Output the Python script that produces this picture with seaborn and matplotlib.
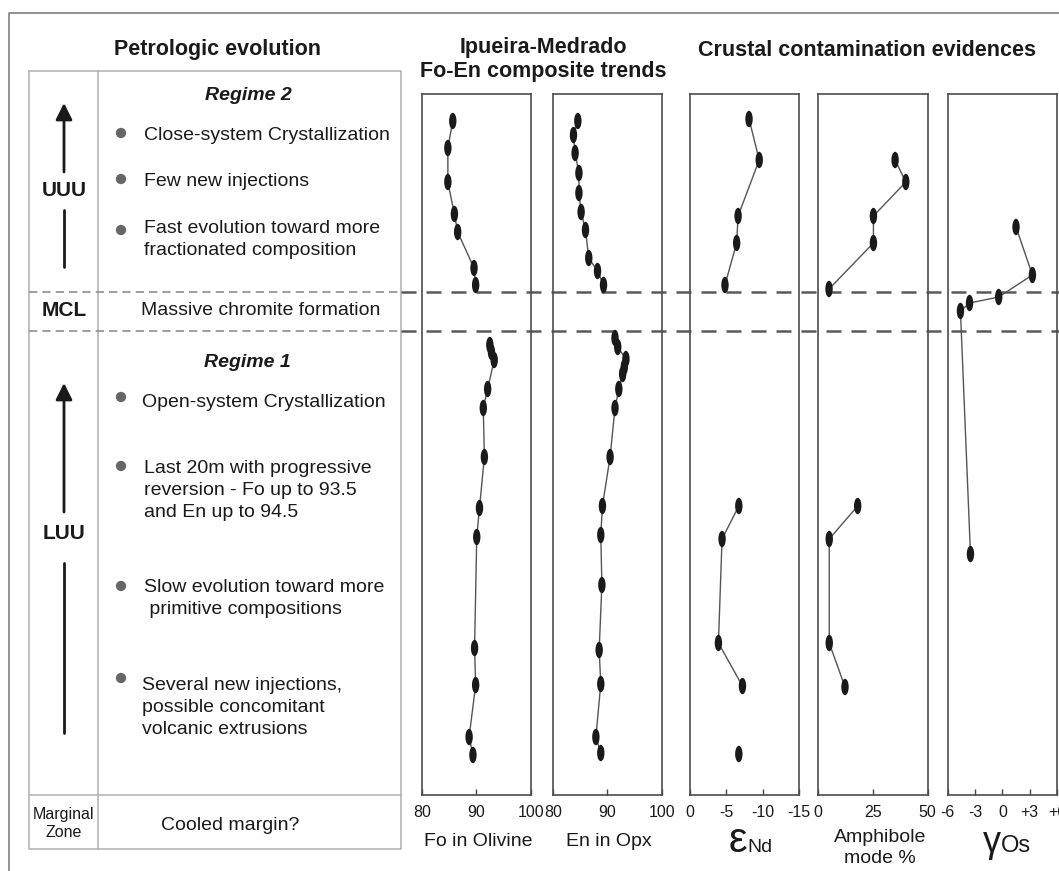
import numpy as np
import pandas as pd
import matplotlib
matplotlib.use('Agg')
import matplotlib.pyplot as plt
from matplotlib.path import Path
from matplotlib.transforms import Affine2D
import seaborn as sns

W, H = 1059, 871

# ── Data (stratigraphic height, arbitrary units, 0 = base of panel) ─────────
fo_upper_val = [85.7, 84.8, 84.8, 86.0, 86.6, 89.6, 89.9]
fo_upper_h   = [674, 647, 613, 581, 563, 527, 510]
fo_lower_val = [92.5, 92.8, 93.3, 92.1, 91.3, 91.5, 90.6, 90.1, 89.7, 89.9, 88.7, 89.4]
fo_lower_h   = [450, 443, 435, 406, 387, 338, 287, 258, 147, 110, 58, 40]

en_upper_val = [84.6, 83.8, 84.1, 84.8, 84.8, 85.2, 86.0, 86.6, 88.2, 89.3]
en_upper_h   = [674, 660, 642, 622, 602, 583, 565, 537, 524, 510]
en_lower_val = [91.4, 91.9, 93.4, 93.1, 92.8, 92.1, 91.4, 90.5, 89.1, 88.8, 89.0, 88.5, 88.8, 87.9, 88.8]
en_lower_h   = [457, 448, 436, 428, 421, 406, 387, 338, 289, 260, 210, 145, 111, 58, 42]

nd_upper_val = [-8.1, -9.5, -6.6, -6.4, -4.8]
nd_upper_h   = [676, 635, 579, 552, 510]
nd_lower_val = [-6.7, -4.4, -3.9, -7.2]
nd_lower_h   = [289, 256, 152, 109]
nd_base_val  = [-6.7]
nd_base_h    = [41]

amph_upper_val = [35.1, 40.0, 25.2, 25.2, 4.9]
amph_upper_h   = [635, 613, 579, 552, 506]
amph_lower_val = [18.0, 5.0, 5.0, 12.2]
amph_lower_h   = [289, 256, 152, 108]

os_val = [1.5, 3.3, -0.4, -3.6, -4.6, -3.5]
os_h   = [568, 520, 498, 492, 484, 241]

fo_ticks, fo_labels     = [80, 90, 100], ['80', '90', '100']
nd_ticks, nd_labels     = [0, -5, -10, -15], ['0', '-5', '-10', '-15']
amph_ticks, amph_labels = [0, 25, 50], ['0', '25', '50']
os_ticks, os_labels     = [-6, -3, 0, 3, 6], ['-6', '-3', '0', '+3', '+6']

# ── Style ───────────────────────────────────────────────────────────────────
sns.set_theme(style='white')
plt.rcParams['font.family'] = ['Liberation Sans', 'DejaVu Sans']
plt.rcParams['axes.unicode_minus'] = False

TXT = '#1a1a1a'
ELLIPSE = Affine2D().scale(0.45, 1.0).transform_path(Path.unit_circle())

fig = plt.figure(figsize=(W / 100, H / 100), dpi=100)

# overlay in pixel coords for table, texts and frame
bg = fig.add_axes([0, 0, 1, 1])
bg.set_xlim(0, W); bg.set_ylim(H, 0); bg.axis('off')

# outer frame
bg.plot([9, 9, W], [H, 13, 13], color='#8a8a8a', lw=1.3)

# table
tcol = '#b5b5b5'
bg.plot([29, 401, 401, 29, 29], [71, 71, 849, 849, 71], color=tcol, lw=1.2)
bg.plot([98, 98], [71, 849], color=tcol, lw=1.2)
bg.plot([29, 401], [795, 795], color=tcol, lw=1.2)
for yy in (292, 331):
    bg.plot([29, 401], [yy, yy], color='#8f8f8f', lw=1.2, ls=(0, (5, 3)))
    bg.plot([401, W], [yy, yy], color='#5a5a5a', lw=1.8, ls=(0, (6, 4)))

# headers
bg.text(217, 49, 'Petrologic evolution', fontsize=15.5, weight='bold', color=TXT, ha='center', va='center')
bg.text(543, 47, 'Ipueira-Medrado', fontsize=15.5, weight='bold', color=TXT, ha='center', va='center')
bg.text(543, 71, 'Fo-En composite trends', fontsize=15.5, weight='bold', color=TXT, ha='center', va='center')
bg.text(867, 50, 'Crustal contamination evidences', fontsize=15.5, weight='bold', color=TXT, ha='center', va='center')

# left column labels and arrows
def arrow(x, head, neck, tail_top, tail_bot):
    bg.annotate('', xy=(x, head), xytext=(x, neck),
                arrowprops=dict(arrowstyle='-|>', lw=2, color='k', mutation_scale=25,
                                shrinkA=0, shrinkB=0))
    bg.plot([x, x], [tail_top, tail_bot], color='k', lw=2)

arrow(64, 103, 172, 210, 267)
bg.text(64, 190, 'UUU', fontsize=15, weight='bold', color=TXT, ha='center', va='center')
arrow(64, 383, 512, 563, 733)
bg.text(64, 533, 'LUU', fontsize=15, weight='bold', color=TXT, ha='center', va='center')
bg.text(64, 310, 'MCL', fontsize=15, weight='bold', color=TXT, ha='center', va='center')
bg.text(64, 814, 'Marginal', fontsize=11.5, color=TXT, ha='center', va='center')
bg.text(64, 832, 'Zone', fontsize=11.5, color=TXT, ha='center', va='center')

bg.text(248, 96, 'Regime 2', fontsize=14, weight='bold', style='italic', color=TXT, ha='center', va='center')
bg.text(247, 362, 'Regime 1', fontsize=14, weight='bold', style='italic', color=TXT, ha='center', va='center')
bg.text(261, 310, 'Massive chromite formation', fontsize=14, color=TXT, ha='center', va='center')
bg.text(230, 825, 'Cooled margin?', fontsize=14, color=TXT, ha='center', va='center')

bullets = [
    (133, 136, 144, ['Close-system Crystallization']),
    (179, 181, 144, ['Few new injections']),
    (230, 228, 144, ['Fast evolution toward more', 'fractionated composition']),
    (397, 402, 142, ['Open-system Crystallization']),
    (466, 468, 144, ['Last 20m with progressive', 'reversion - Fo up to 93.5', 'and En up to 94.5']),
    (586, 587, 144, ['Slow evolution toward more', ' primitive compositions']),
    (678, 685, 142, ['Several new injections,', 'possible concomitant', 'volcanic extrusions']),
]
for by, ty, tx, lines in bullets:
    bg.scatter([121], [by], s=55, color='#666666', edgecolor='none')
    for i, line in enumerate(lines):
        bg.text(tx, ty + 22 * i, line, fontsize=14, color=TXT, ha='left', va='center')

# ── Panels ──────────────────────────────────────────────────────────────────
PTOP, PBOT = 94, 795

def panel(left, right, xlim, ticks, labels, segments):
    ax = fig.add_axes([left / W, 1 - PBOT / H, (right - left) / W, (PBOT - PTOP) / H])
    ax.set_facecolor('none')
    df = pd.concat([pd.DataFrame({'val': v, 'h': h, 'seg': i})
                    for i, (v, h) in enumerate(segments)], ignore_index=True)
    sns.lineplot(data=df, x='val', y='h', units='seg', estimator=None, sort=False,
                 color='#555555', lw=1.0, ax=ax)
    sns.scatterplot(data=df, x='val', y='h', marker=ELLIPSE, s=140, color='k',
                    edgecolor='none', linewidth=0, ax=ax, zorder=3)
    ax.set_xlim(*xlim)
    ax.set_ylim(0, PBOT - PTOP)
    ax.set_xticks(ticks)
    ax.set_xticklabels(labels)
    ax.set_yticks([])
    ax.set_xlabel(''); ax.set_ylabel('')
    ax.tick_params(axis='x', direction='in', length=4, width=1, color='#444444',
                   labelsize=11.5, labelcolor=TXT, pad=7, bottom=True)
    for sp in ax.spines.values():
        sp.set_color('#4d4d4d'); sp.set_linewidth(1.2)
    return ax

panel(421.7, 530.7, (80, 100), fo_ticks, fo_labels,
      [(fo_upper_val, fo_upper_h), (fo_lower_val, fo_lower_h)])
panel(552.7, 662, (80, 100), fo_ticks, fo_labels,
      [(en_upper_val, en_upper_h), (en_lower_val, en_lower_h)])
panel(690, 799.3, (0, -15), nd_ticks, nd_labels,
      [(nd_upper_val, nd_upper_h), (nd_lower_val, nd_lower_h), (nd_base_val, nd_base_h)])
panel(818.3, 927.7, (0, 50), amph_ticks, amph_labels,
      [(amph_upper_val, amph_upper_h), (amph_lower_val, amph_lower_h)])
panel(947.7, 1057, (-6, 6), os_ticks, os_labels, [(os_val, os_h)])

# x labels
bg.text(478, 841, 'Fo in Olivine', fontsize=14, color=TXT, ha='center', va='center')
bg.text(609, 841, 'En in Opx', fontsize=14, color=TXT, ha='center', va='center')
bg.text(747, 852, 'ε', fontsize=30, color=TXT, ha='right', va='baseline')
bg.text(747, 852, 'Nd', fontsize=14, color=TXT, ha='left', va='baseline')
bg.text(880, 837, 'Amphibole', fontsize=14, color=TXT, ha='center', va='center')
bg.text(880, 858, 'mode %', fontsize=14, color=TXT, ha='center', va='center')
bg.text(1001, 852, 'γ', fontsize=26, color=TXT, ha='right', va='baseline')
bg.text(1001, 852, 'Os', fontsize=17, color=TXT, ha='left', va='baseline')

fig.savefig('out.png', dpi=100, facecolor='white')
